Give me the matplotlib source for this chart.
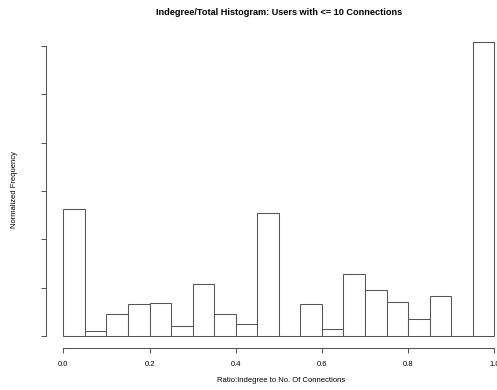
import matplotlib
matplotlib.use("Agg")
import matplotlib.pyplot as plt
import numpy as np

plt.rcParams['font.family'] = ['Liberation Sans', 'DejaVu Sans']

bin_edges = [round(0.05 * i, 2) for i in range(21)]
freq = [2.63, 0.10, 0.45, 0.66, 0.68, 0.21, 1.07, 0.45, 0.24, 2.54,
        0.0, 0.66, 0.14, 1.28, 0.95, 0.70, 0.35, 0.82, 0.0, 6.08]
xticks = [0.0, 0.2, 0.4, 0.6, 0.8, 1.0]
xticklabels = ["0.0", "0.2", "0.4", "0.6", "0.8", "1.0"]
yticks = [0, 1, 2, 3, 4, 5, 6]

W, H = 497, 390
fig = plt.figure(figsize=(W / 100, H / 100), dpi=100)
ax_left, ax_right = 46.1, 511.5
ax_top, ax_bottom = 30.6, 347.7
ax = fig.add_axes([ax_left / W, 1 - ax_bottom / H, (ax_right - ax_left) / W, (ax_bottom - ax_top) / H])

lc = '#555555'
lefts = bin_edges[:-1]
widths = [bin_edges[i + 1] - bin_edges[i] for i in range(len(lefts))]
ax.bar(lefts, freq, width=widths, align='edge', facecolor='white', edgecolor=lc, linewidth=0.75)

ymax = max(freq)
ax.set_xlim(-0.04, 1.04)
ax.set_ylim(-0.04 * ymax, 1.04 * ymax)

for s in ['top', 'right']:
    ax.spines[s].set_visible(False)
ax.spines['left'].set_bounds(0, 6)
ax.spines['bottom'].set_bounds(0, 1)
for s in ['left', 'bottom']:
    ax.spines[s].set_color(lc)
    ax.spines[s].set_linewidth(0.75)

ax.set_xticks(xticks)
ax.set_xticklabels(xticklabels)
ax.set_yticks(yticks)
ax.set_yticklabels([])
ax.tick_params(axis='both', direction='out', length=3.6, width=0.75, color=lc,
               labelsize=5.5, pad=6.0, labelcolor='black')

fig.text(278.8 / W, 1 - 12.7 / H, "Indegree/Total Histogram: Users with <= 10 Connections",
         ha='center', va='center', fontsize=6.6, fontweight='bold')
fig.text(281.5 / W, 1 - 380 / H, "Ratio:Indegree to No. Of Connections",
         ha='center', va='center', fontsize=5.5)
fig.text(14 / W, 1 - 189 / H, "Normalized Frequency", ha='center', va='center',
         rotation=90, fontsize=5.5)

fig.savefig("out.png", dpi=100)
